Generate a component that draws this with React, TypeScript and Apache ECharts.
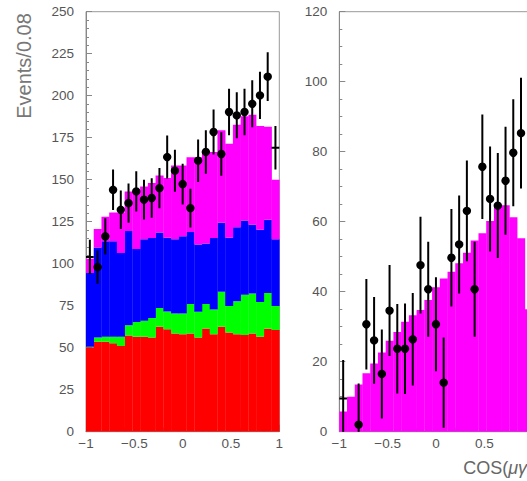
import React, { useEffect, useRef } from "react";
import * as echarts from "echarts";

// bin centres (bin width 0.08)
const binCenters = [
  -0.96, -0.88, -0.8, -0.72, -0.64, -0.56, -0.48, -0.4, -0.32, -0.24, -0.16, -0.08,
  0.0, 0.08, 0.16, 0.24, 0.32, 0.4, 0.48, 0.56, 0.64, 0.72, 0.8, 0.88, 0.96,
];
const binHalf = 0.04;

// left panel: stacked components (bottom to top)
const leftRed = [50.2, 53.6, 53.6, 52.6, 51.0, 57.3, 56.5, 56.5, 56.0, 62.5, 61.0, 58.5, 58.0, 58.5, 56.0, 61.5, 58.0, 62.5, 59.0, 58.0, 57.5, 58.5, 56.5, 61.3, 60.5];
const leftGreen = [0.4, 2.4, 2.9, 3.9, 5.5, 6.0, 8.8, 9.5, 11.7, 11.1, 10.6, 11.9, 12.4, 17.5, 15.4, 14.5, 14.8, 20.8, 15.8, 19.6, 24.0, 23.8, 20.7, 21.2, 14.3];
const leftBlue = [43.8, 53.7, 56.8, 56.8, 49.8, 56.1, 43.5, 48.5, 47.6, 45.0, 43.9, 44.1, 45.9, 42.9, 40.1, 36.0, 42.5, 41.1, 40.7, 44.1, 44.2, 40.9, 43.0, 43.7, 39.7];
const leftMagenta = [8.6, 10.9, 14.7, 17.2, 24.2, 23.6, 34.2, 31.5, 32.7, 33.9, 35.5, 44.0, 42.2, 44.4, 51.8, 54.5, 51.2, 55.1, 55.9, 61.0, 62.0, 65.5, 61.8, 55.3, 35.5];

// left panel: data points, errors, marker type (1 = cross)
const leftData = [104, 98, 116.3, 144, 132.1, 136.1, 143, 138.1, 139.1, 145, 163.5, 155.4, 147.4, 133.1, 161.3, 166.5, 178.4, 165.3, 190.3, 188.3, 190.3, 195.2, 200.2, 211.3, 169];
const leftErr = [10.2, 9.9, 10.8, 12.0, 11.5, 11.7, 12.0, 11.8, 11.8, 12.0, 12.8, 12.5, 12.1, 11.5, 12.7, 12.9, 13.4, 12.9, 13.8, 13.7, 13.8, 14.0, 14.1, 14.5, 13.0];
const leftCross = [1, 0, 0, 0, 0, 0, 0, 0, 0, 0, 0, 0, 0, 0, 0, 0, 0, 0, 0, 0, 0, 0, 0, 0, 1];

// right panel
const rightMagenta = [5.8, 10.0, 13.5, 16.7, 19.5, 22.6, 26.0, 28.5, 31.4, 33.3, 34.8, 37.6, 41.3, 43.8, 45.7, 48.1, 51.1, 54.6, 56.7, 60.2, 64.6, 64.7, 61.3, 55.3, 35.0];
const rightData = [9.5, null, 2.0, 30.7, 26.1, 16.5, 34.6, 23.7, 23.7, 26.4, 47.6, 40.7, 30.7, 14.0, 49.7, 53.5, 63.1, 40.7, 75.7, 66.5, 64.6, 71.7, 79.7, 85.3, null];
const rightErr = [11.0, 0, 11.8, 12.9, 12.4, 12.7, 13.0, 12.8, 12.9, 13.2, 13.8, 13.6, 13.4, 12.9, 13.9, 14.0, 14.4, 13.6, 14.9, 15.0, 15.0, 15.4, 15.3, 15.8, 0];
const rightCross = [1, 0, 0, 0, 0, 0, 0, 0, 0, 0, 0, 0, 0, 0, 0, 0, 0, 0, 0, 0, 0, 0, 0, 0, 0];

const xTicks = { min: -1, max: 1, interval: 0.5 };

function stackRows(layers: number[][]) {
  const rows: number[][][] = layers.map(() => []);
  binCenters.forEach((c, i) => {
    let base = 0;
    layers.forEach((layer, k) => {
      const top = base + layer[i];
      rows[k].push([c - binHalf, c + binHalf, base, top]);
      base = top;
    });
  });
  return rows;
}

function histSeries(data: number[][], color: string, axisIndex: number) {
  return {
    type: "custom",
    xAxisIndex: axisIndex,
    yAxisIndex: axisIndex,
    clip: true,
    data,
    renderItem: (_p: any, api: any) => {
      const a = api.coord([api.value(0), api.value(2)]);
      const b = api.coord([api.value(1), api.value(3)]);
      return {
        type: "rect",
        shape: { x: a[0], y: b[1], width: b[0] - a[0] + 0.3, height: a[1] - b[1] },
        style: { fill: color },
      };
    },
  };
}

function pointSeries(vals: (number | null)[], errs: number[], cross: number[], axisIndex: number) {
  const data = binCenters
    .map((c, i) => (vals[i] == null ? null : [c, vals[i] as number, errs[i], cross[i]]))
    .filter((d) => d != null);
  return {
    type: "custom",
    xAxisIndex: axisIndex,
    yAxisIndex: axisIndex,
    clip: true,
    z: 10,
    data,
    renderItem: (_p: any, api: any) => {
      const x = api.value(0);
      const v = api.value(1);
      const e = api.value(2);
      const isCross = api.value(3) === 1;
      const c = api.coord([x, v]);
      const t = api.coord([x, v + e]);
      const b = api.coord([x, v - e]);
      const children: any[] = [
        {
          type: "line",
          shape: { x1: c[0], y1: t[1], x2: c[0], y2: b[1] },
          style: { stroke: "#000", lineWidth: 2 },
        },
      ];
      if (isCross) {
        const l = api.coord([x - binHalf, v]);
        const r = api.coord([x + binHalf, v]);
        children.push({
          type: "line",
          shape: { x1: l[0], y1: c[1], x2: r[0], y2: c[1] },
          style: { stroke: "#000", lineWidth: 2 },
        });
      } else {
        children.push({
          type: "circle",
          shape: { cx: c[0], cy: c[1], r: 4.2 },
          style: { fill: "#000" },
        });
      }
      return { type: "group", children };
    },
  };
}

const fmt = (v: number) => (v < 0 ? "\u2212" + String(Math.abs(v)) : String(v));

const labelStyle = {
  color: "#555",
  fontFamily: "Liberation Sans",
  fontSize: 13.5,
};

function xAxis(gridIndex: number, showMax: boolean) {
  return {
    type: "value",
    gridIndex,
    min: xTicks.min,
    max: xTicks.max,
    interval: xTicks.interval,
    axisLine: { show: true, onZero: false, lineStyle: { color: "#888", width: 1 } },
    axisTick: { show: true, inside: true, length: 7, lineStyle: { color: "#888" } },
    minorTick: { show: true, splitNumber: 5, length: 4, lineStyle: { color: "#888" } },
    splitLine: { show: false },
    axisLabel: { ...labelStyle, margin: 5, formatter: fmt, showMaxLabel: showMax, showMinLabel: true },
  };
}

function yAxis(gridIndex: number, max: number, interval: number, minorSplit: number) {
  return {
    type: "value",
    gridIndex,
    min: 0,
    max,
    interval,
    axisLine: { show: true, onZero: false, lineStyle: { color: "#888", width: 1 } },
    axisTick: { show: true, inside: true, length: 6, lineStyle: { color: "#888" } },
    minorTick: { show: true, splitNumber: minorSplit, length: 3, lineStyle: { color: "#888" } },
    splitLine: { show: false },
    axisLabel: { ...labelStyle, margin: 12 },
  };
}

export default function App() {
  const ref = useRef<HTMLDivElement>(null);
  useEffect(() => {
    if (!ref.current) return;
    const chart = echarts.init(ref.current, undefined, { renderer: "svg" });
    const left = stackRows([leftRed, leftGreen, leftBlue, leftMagenta]);
    const right = stackRows([rightMagenta]);
    chart.setOption({
      animation: false,
      backgroundColor: "#fff",
      grid: [
        { left: 86, top: 11.7, width: 193.3, height: 420, outerBoundsMode: "none", containLabel: false, show: true, borderColor: "#999", borderWidth: 1, backgroundColor: "transparent" },
        { left: 339.3, top: 11.7, width: 193.3, height: 420, outerBoundsMode: "none", containLabel: false, show: true, borderColor: "#999", borderWidth: 1, backgroundColor: "transparent" },
      ],
      xAxis: [xAxis(0, true), xAxis(1, false)],
      yAxis: [yAxis(0, 250, 25, 5), yAxis(1, 120, 20, 4)],
      series: [
        histSeries(left[0], "#ff0000", 0),
        histSeries(left[1], "#00ff00", 0),
        histSeries(left[2], "#0000ff", 0),
        histSeries(left[3], "#ff00ff", 0),
        pointSeries(leftData, leftErr, leftCross, 0),
        histSeries(right[0], "#ff00ff", 1),
        pointSeries(rightData, rightErr, rightCross, 1),
      ],
      graphic: [
        {
          type: "text",
          x: 24,
          y: 66,
          rotation: Math.PI / 2,
          style: {
            text: "Events/0.08",
            fill: "#777",
            font: "20px 'Liberation Sans'",
            align: "center",
            verticalAlign: "middle",
          },
        },
        {
          type: "text",
          x: 533,
          y: 468,
          style: {
            text: "{a|COS(}{b|\u03bc\u03b3}{a|)}",
            align: "right",
            verticalAlign: "middle",
            rich: {
              a: { fill: "#666", fontFamily: "Liberation Sans", fontSize: 18 },
              b: { fill: "#666", fontFamily: "Liberation Sans", fontSize: 18, fontStyle: "italic" },
            },
          },
        },
      ],
    });
    return () => chart.dispose();
  }, []);
  return (
    <div
      ref={ref}
      style={{ position: "fixed", left: 0, top: 0, width: 527, height: 481, overflow: "hidden" }}
    />
  );
}
